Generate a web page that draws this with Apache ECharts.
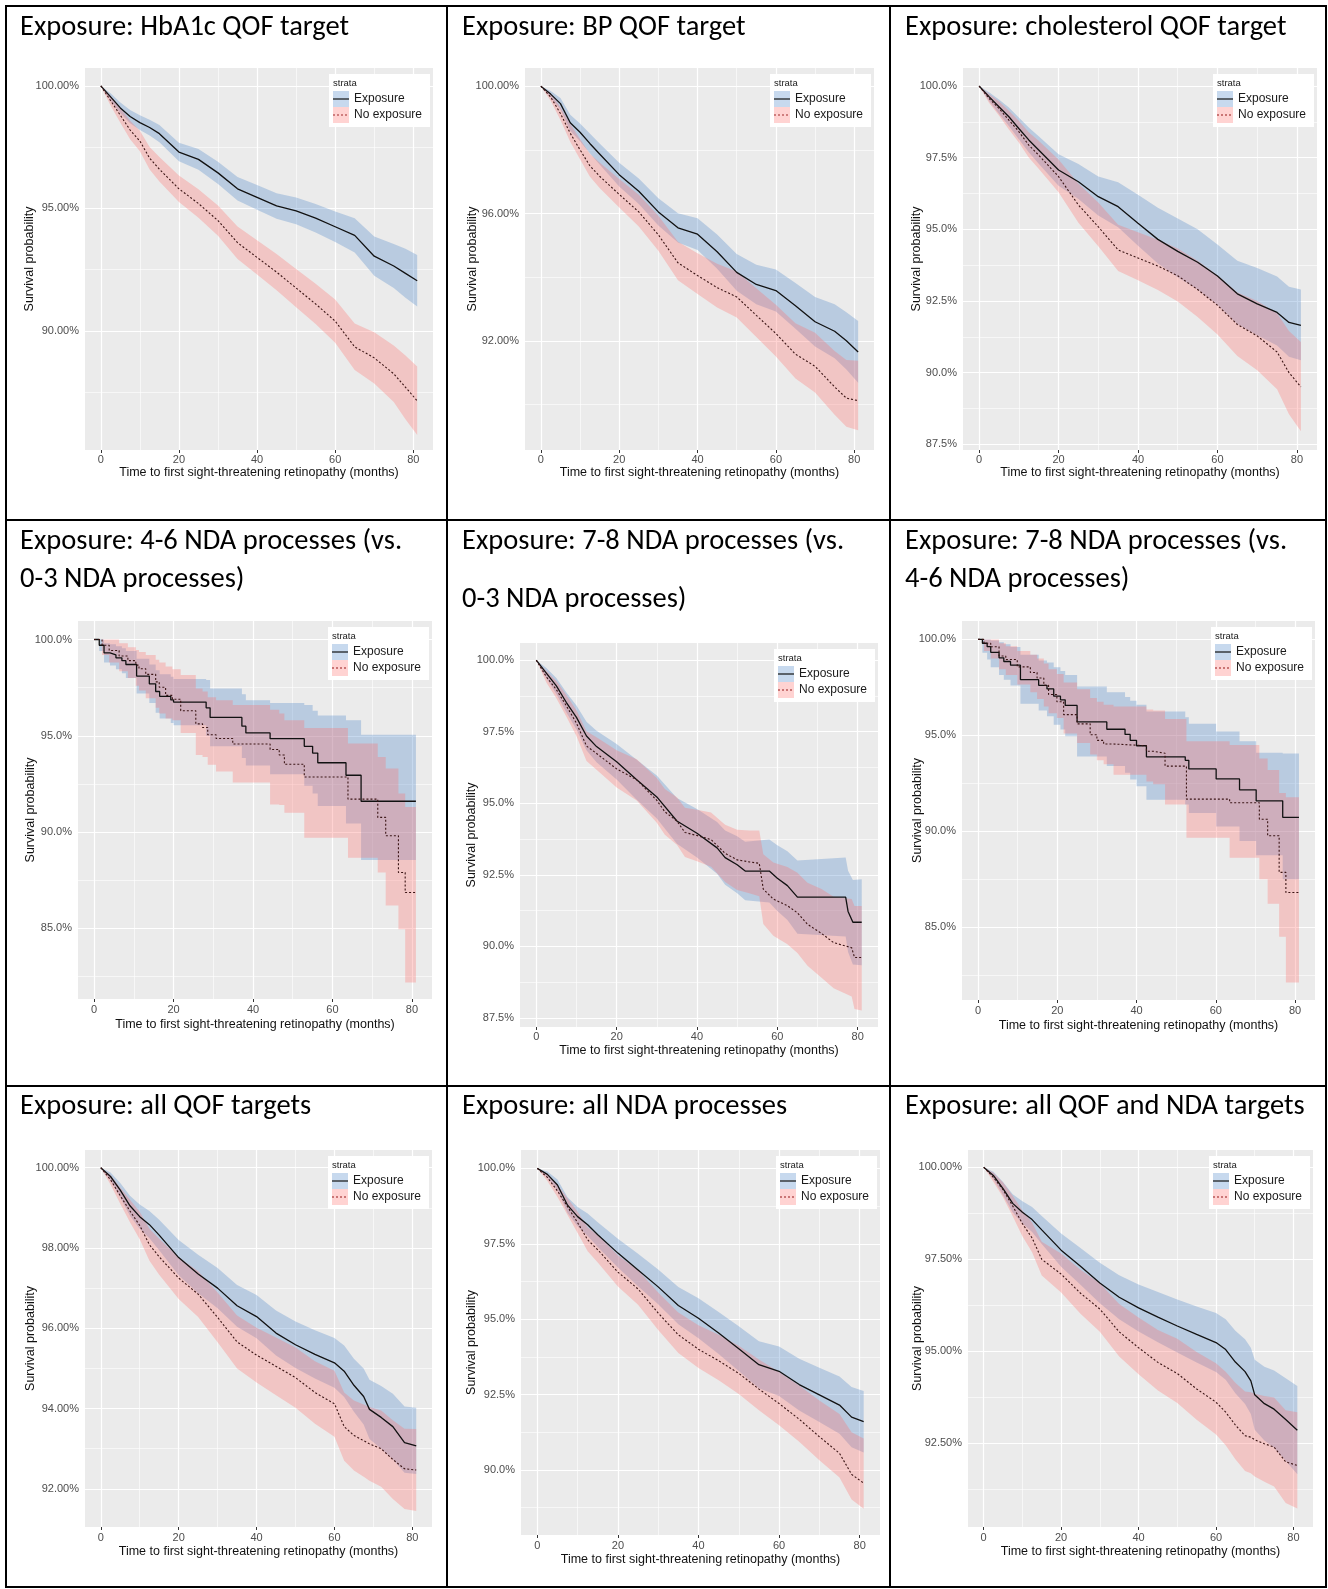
<!DOCTYPE html>
<html><head><meta charset="utf-8">
<script src="https://cdn.jsdelivr.net/npm/echarts@6/dist/echarts.min.js"></script>
<style>html,body{margin:0;padding:0;background:#fff}#c{width:1328px;height:1589px}</style>
</head><body><div id="c"></div>
<script>
// ---------------- DATA ----------------
const TITLES = [
 'Exposure: HbA1c QOF target',
 'Exposure: BP QOF target',
 'Exposure: cholesterol QOF target',
 'Exposure: 4-6 NDA processes (vs.\n0-3 NDA processes)',
 'Exposure: 7-8 NDA processes (vs.\n0-3 NDA processes)',
 'Exposure: 7-8 NDA processes (vs.\n4-6 NDA processes)',
 'Exposure: all QOF targets',
 'Exposure: all NDA processes',
 'Exposure: all QOF and NDA targets'
];
const STRATA = ['Exposure', 'No exposure'];
const LEGEND_TITLE = 'strata';
const X_NAME = 'Time to first sight-threatening retinopathy (months)';
const Y_NAME = 'Survival probability';
const X_TICKS = [0, 20, 40, 60, 80];
const X_MINOR = [10, 30, 50, 70];

// Panel 1: HbA1c QOF target
const p1_t     = [0,2.5,5,7.5,10,12.5,15,20,25,30,35,40,45,50,55,60,65,70,75,78,81];
const p1_expS  = [100,99.55,99.1,98.75,98.5,98.3,98.05,97.3,97.0,96.45,95.8,95.45,95.1,94.9,94.6,94.25,93.9,93.05,92.65,92.35,92.05];
const p1_expLo = [100,99.4,98.88,98.48,98.2,97.98,97.7,96.92,96.58,96.0,95.32,94.95,94.58,94.35,94.02,93.63,93.2,92.25,91.75,91.35,91.0];
const p1_expHi = [100,99.7,99.32,99.02,98.8,98.62,98.4,97.68,97.42,96.9,96.28,95.95,95.62,95.45,95.18,94.87,94.6,93.85,93.55,93.35,93.1];
const p1_noS   = [100,99.4,98.8,98.2,97.75,97.05,96.6,95.8,95.2,94.5,93.6,93.0,92.4,91.75,91.1,90.4,89.35,88.9,88.25,87.7,87.15];
const p1_noLo  = [100,99.2,98.5,97.82,97.33,96.59,96.1,95.26,94.62,93.88,92.94,92.3,91.66,90.97,90.28,89.52,88.4,87.85,87.1,86.4,85.75];
const p1_noHi  = [100,99.6,99.1,98.58,98.17,97.51,97.1,96.34,95.78,95.12,94.26,93.7,93.14,92.53,91.92,91.28,90.3,89.95,89.4,89.0,88.55];
const p1_yTicks = [90,95,100], p1_yMinor = [87.5,92.5,97.5];

// Panel 2: BP QOF target
const p2_t     = [0,2.5,5,7.5,10,12.5,15,20,25,30,35,40,45,50,55,60,65,70,75,78,81];
const p2_expS  = [100,99.75,99.45,98.85,98.55,98.2,97.87,97.22,96.7,96.05,95.55,95.35,94.8,94.15,93.77,93.58,93.1,92.6,92.3,92.0,91.65];
const p2_expLo = [100,99.65,99.27,98.6,98.27,97.89,97.54,96.85,96.3,95.62,95.09,94.85,94.26,93.57,93.15,92.92,92.38,91.82,91.45,91.1,90.68];
const p2_expHi = [100,99.85,99.63,99.1,98.83,98.51,98.2,97.59,97.1,96.48,96.01,95.85,95.34,94.73,94.39,94.24,93.82,93.38,93.15,92.9,92.62];
const p2_noS   = [100,99.66,99.14,98.52,98.0,97.5,97.17,96.6,96.05,95.33,94.45,94.05,93.67,93.38,92.8,92.23,91.58,91.2,90.55,90.2,90.12];
const p2_noLo  = [100,99.54,98.94,98.25,97.7,97.16,96.8,96.19,95.59,94.83,93.9,93.47,93.05,92.73,92.12,91.51,90.82,90.38,89.68,89.3,89.19];
const p2_noHi  = [100,99.78,99.34,98.81,98.34,97.88,97.6,97.08,96.59,95.93,95.11,94.75,94.42,94.18,93.65,93.13,92.55,92.25,91.68,91.4,91.37];
const p2_yTicks = [92,96,100], p2_yMinor = [90,94,98];

// Panel 3: cholesterol QOF target
const p3_t     = [0,2.5,5,7.5,10,12.5,15,20,25,30,35,40,45,50,55,60,65,70,75,78,81];
const p3_expS  = [100,99.63,99.28,98.93,98.52,98.12,97.77,97.07,96.66,96.14,95.79,95.21,94.65,94.23,93.85,93.37,92.75,92.4,92.1,91.75,91.65];
const p3_expLo = [100,99.48,99.03,98.61,98.14,97.69,97.29,96.52,96.06,95.48,95.07,94.43,93.81,93.33,92.9,92.37,91.7,91.3,90.95,90.55,90.43];
const p3_expHi = [100,99.78,99.53,99.25,98.9,98.55,98.25,97.62,97.28,96.84,96.64,96.21,95.75,95.38,95.0,94.47,93.9,93.65,93.35,93.0,92.9];
const p3_noS   = [100,99.57,99.22,98.81,98.41,97.94,97.59,96.84,95.85,95.09,94.28,94.0,93.72,93.38,92.9,92.35,91.68,91.28,90.72,90.0,89.5];
const p3_noLo  = [100,99.42,98.97,98.48,98.03,97.51,97.11,96.29,95.23,94.41,93.55,93.22,92.88,92.48,91.94,91.33,90.58,90.08,89.42,88.55,87.95];
const p3_noHi  = [100,99.72,99.47,99.14,98.79,98.39,98.09,97.44,96.6,95.94,95.16,94.9,94.64,94.33,93.9,93.4,92.8,92.5,92.07,91.45,91.07];
const p3_yTicks = [87.5,90,92.5,95,97.5,100], p3_yMinor = [88.75,91.25,93.75,96.25,98.75];

// Panel 4: 4-6 vs 0-3 NDA processes (step curves)
const p4_tExp  = [0,1.3,2.5,4,5.5,7,8,10.7,13.9,15.5,16.5,19.3,20,28.2,29.2,37.2,38.2,44.3,52.9,55,56.3,63.4,67.2,81];
const p4_expS  = [100,99.7,99.3,99.2,99.05,98.9,98.7,98.1,97.7,97.3,97.05,96.86,96.75,96.45,95.95,95.5,95.15,94.85,94.45,94.1,93.6,92.95,91.6,91.6];
const p4_expLo = [100,99.4,98.8,98.65,98.45,98.25,98.0,97.2,96.7,96.2,95.9,95.66,95.55,95.0,94.45,93.85,93.45,93.0,92.4,92.0,91.35,90.45,88.55,88.55];
const p4_expHi = [100,100,99.8,99.75,99.65,99.55,99.4,99.0,98.7,98.4,98.2,98.06,97.95,97.9,97.45,97.15,96.85,96.7,96.6,96.3,96.05,95.8,95.05,95.05];
const p4_tNo   = [0,2,3.8,6.3,8.5,10.5,11.3,13,15.5,16.4,18,19.7,21.8,25.6,27.3,28.6,30.7,34.9,44.3,46.6,47.9,52.9,63.9,71.4,73.4,76.6,78.3,81];
const p4_noS   = [100,99.7,99.43,99.14,98.9,98.67,98.48,98.19,97.8,97.52,97.1,96.9,96.3,95.62,95.43,95.05,94.86,94.57,94.29,94.0,93.52,92.86,91.71,90.76,89.81,87.9,86.86,86.86];
const p4_noLo  = [100,99.2,98.8,98.35,98.0,97.6,97.35,96.95,96.45,96.15,95.9,95.8,95.14,94.0,93.9,93.5,93.14,92.57,91.43,91.4,91.0,89.71,88.67,87.9,86.19,84.95,82.19,82.19];
const p4_noHi  = [100,100,100,99.8,99.6,99.45,99.35,99.2,98.95,98.8,98.6,98.45,98.15,97.45,97.3,97.0,96.85,96.6,96.35,96.15,95.8,95.4,94.6,93.9,93.3,92.0,91.3,91.3];
const p4_yTicks = [85,90,95,100], p4_yMinor = [82.5,87.5,92.5,97.5];

// Panel 5: 7-8 vs 0-3 NDA processes
const p5_tExp  = [0,2.5,5,7.5,10,12.5,15,20,25,30,35,40,45,47,50,52,58,60,62.5,65,77,77.6,78.8,81];
const p5_expS  = [100,99.55,99.1,98.52,98.0,97.35,96.98,96.45,95.82,95.22,94.38,93.95,93.44,93.1,92.85,92.63,92.63,92.38,92.12,91.72,91.72,91.22,90.84,90.84];
const p5_expLo = [100,99.37,98.82,98.17,97.58,96.85,96.43,95.83,95.12,94.47,93.58,93.1,92.54,92.15,91.85,91.61,91.53,91.23,90.92,90.44,90.34,89.8,89.36,89.34];
const p5_expHi = [100,99.73,99.38,98.87,98.42,97.85,97.53,97.07,96.52,95.97,95.18,94.8,94.34,94.05,93.85,93.65,93.73,93.53,93.32,93.0,93.1,92.64,92.32,92.34];
const p5_tNo   = [0,2.5,5,7.5,10,12.5,15,20,25,30,32,35,37,40,43.5,47,50,53,55.5,56.5,59,62.5,65,67.5,71,74,78.5,79.2,81];
const p5_noS   = [100,99.42,98.97,98.4,97.8,97.0,96.74,96.2,95.82,95.1,94.7,94.38,93.98,93.87,93.73,93.25,93.02,92.95,92.9,92.0,91.65,91.42,91.17,90.77,90.45,90.13,89.95,89.61,89.61];
const p5_noLo  = [100,99.22,98.67,98.02,97.35,96.48,96.17,95.55,95.1,94.32,93.9,93.55,93.12,92.97,92.78,92.25,91.97,91.85,91.75,90.78,90.37,90.07,89.77,89.32,88.9,88.53,88.25,87.81,87.76];
const p5_noHi  = [100,99.62,99.27,98.78,98.25,97.52,97.31,96.85,96.54,95.88,95.5,95.21,94.84,94.77,94.68,94.25,94.07,94.05,94.05,93.22,92.93,92.77,92.57,92.22,92.0,91.73,91.65,91.41,91.41];
const p5_yTicks = [87.5,90,92.5,95,97.5,100], p5_yMinor = [88.75,91.25,93.75,96.25,98.75];

// Panel 6: 7-8 vs 4-6 NDA processes (step curves)
const p6_tExp  = [0,1.1,2.3,3.2,5.3,6.5,8.2,10.7,15.3,17.4,19.1,20.8,22,25,32.5,37.1,38.4,40,42.5,52.3,53.2,60.1,66,70.2,76.9,81];
const p6_expS  = [100,99.8,99.62,99.33,99.04,98.85,98.66,97.9,97.61,97.42,97.04,96.85,96.56,95.7,95.32,95.05,94.74,94.46,93.88,93.7,93.25,92.73,92.16,91.59,90.73,90.73];
const p6_expLo = [100,99.3,98.95,98.55,98.15,97.9,97.6,96.65,96.3,96.0,95.55,95.3,94.95,93.9,93.4,93.05,92.7,92.35,91.65,91.4,90.95,90.25,89.5,88.75,87.5,87.5];
const p6_expHi = [100,100,100,99.95,99.85,99.75,99.6,99.2,98.9,98.8,98.55,98.35,98.15,97.55,97.25,97.0,96.8,96.6,96.25,95.95,95.6,95.2,94.7,94.1,94.05,94.05];
const p6_tNo   = [0,1.5,3.2,5.3,7,9.9,13.2,14.9,16.6,17.8,19.9,21.6,25,28.3,30,31.7,34.2,42.5,44.2,47.2,52.6,63.5,71,73.1,76,77.7,81];
const p6_noS   = [100,99.8,99.62,99.14,98.95,98.57,98.28,97.99,97.61,97.13,96.75,96.08,95.6,95.03,94.74,94.55,94.46,94.17,94.07,93.4,91.68,91.49,90.63,89.77,87.86,86.81,86.81];
const p6_noLo  = [100,99.4,99.0,98.45,98.15,97.65,97.25,96.9,96.5,96.15,95.9,95.1,94.6,94.0,93.7,93.5,92.95,92.6,92.45,91.4,89.67,88.62,87.5,86.23,84.5,82.12,82.12];
const p6_noHi  = [100,100,100,99.8,99.65,99.4,99.2,99.0,98.75,98.45,98.2,97.75,97.4,96.95,96.75,96.6,96.5,96.35,96.3,95.85,94.7,94.5,93.8,93.2,92.0,91.78,91.78];
const p6_yTicks = [85,90,95,100], p6_yMinor = [82.5,87.5,92.5,97.5];

// Panel 7: all QOF targets
const p7_t     = [0,2.5,5,7.5,10,12.5,15,20,25,30,35,40,45,50,55,60,62.5,65,67.5,69,72,75,78,81];
const p7_expS  = [100,99.78,99.44,99.05,98.78,98.58,98.32,97.76,97.35,97.0,96.56,96.29,95.88,95.59,95.35,95.14,94.93,94.58,94.3,93.98,93.78,93.55,93.15,93.07];
const p7_expLo = [100,99.68,99.26,98.8,98.48,98.24,97.94,97.32,96.87,96.5,96.04,95.75,95.32,95.01,94.75,94.52,94.29,93.92,93.6,93.24,93.0,92.73,92.4,92.37];
const p7_expHi = [100,99.88,99.62,99.3,99.08,98.92,98.7,98.2,97.83,97.5,97.08,96.83,96.44,96.17,95.95,95.76,95.57,95.24,95.0,94.72,94.56,94.37,94.05,94.02];
const p7_noS   = [100,99.7,99.3,98.92,98.56,98.08,97.78,97.25,96.85,96.27,95.66,95.33,95.05,94.77,94.4,94.12,93.55,93.33,93.2,93.12,93.0,92.73,92.5,92.47];
const p7_noLo  = [100,99.58,99.1,98.64,98.22,97.68,97.33,96.73,96.28,95.65,95.0,94.65,94.33,94.02,93.62,93.3,92.7,92.46,92.3,92.2,92.05,91.75,91.5,91.45];
const p7_noHi  = [100,99.82,99.5,99.2,98.9,98.48,98.23,97.77,97.42,96.89,96.32,96.01,95.77,95.52,95.18,94.94,94.4,94.2,94.1,94.04,93.95,93.71,93.5,93.49];
const p7_yTicks = [92,94,96,98,100], p7_yMinor = [93,95,97,99];

// Panel 8: all NDA processes
const p8_t     = [0,2.5,5,7.5,10,12.5,15,20,25,30,35,40,45,50,55,60,65,70,75,78,81];
const p8_expS  = [100,99.8,99.45,98.78,98.4,98.13,97.8,97.19,96.63,96.07,95.45,95.03,94.54,94.02,93.49,93.27,92.83,92.49,92.15,91.75,91.6];
const p8_expLo = [100,99.7,99.27,98.52,98.08,97.76,97.39,96.71,96.09,95.49,94.83,94.37,93.84,93.28,92.71,92.45,91.97,91.59,91.2,90.75,90.58];
const p8_expHi = [100,99.9,99.63,99.04,98.72,98.5,98.21,97.67,97.17,96.65,96.07,95.69,95.24,94.76,94.27,94.09,93.69,93.39,93.1,92.75,92.62];
const p8_noS   = [100,99.7,99.25,98.73,98.2,97.63,97.3,96.56,96.0,95.2,94.48,94.0,93.62,93.2,92.68,92.2,91.68,91.1,90.55,89.85,89.56];
const p8_noLo  = [100,99.58,99.05,98.45,97.86,97.25,96.88,96.08,95.48,94.64,93.88,93.38,92.97,92.52,91.98,91.48,90.93,90.32,89.75,89.02,88.71];
const p8_noHi  = [100,99.82,99.45,99.01,98.56,98.05,97.78,97.12,96.62,95.88,95.22,94.8,94.48,94.12,93.66,93.25,92.8,92.3,91.85,91.25,91.04];
const p8_yTicks = [90,92.5,95,97.5,100], p8_yMinor = [88.75,91.25,93.75,96.25,98.75];

// Panel 9: all QOF and NDA targets
const p9_t     = [0,2.5,5,7.5,10,12.5,15,20,25,30,35,40,45,50,55,60,62.5,65,67.5,69,70,72.5,75,78,81];
const p9_expS  = [100,99.78,99.42,99.02,98.78,98.58,98.3,97.75,97.31,96.86,96.47,96.18,95.93,95.69,95.46,95.24,95.05,94.71,94.45,94.2,93.82,93.58,93.43,93.15,92.86];
const p9_expLo = [100,99.68,99.24,98.77,98.48,98.24,97.92,97.3,96.81,96.31,95.87,95.54,95.25,94.97,94.7,94.44,94.23,93.86,93.57,93.3,92.87,92.58,92.38,92.03,91.66];
const p9_expHi = [100,99.88,99.6,99.27,99.08,98.92,98.68,98.2,97.81,97.41,97.07,96.82,96.61,96.41,96.22,96.04,95.87,95.56,95.33,95.1,94.77,94.58,94.48,94.27,94.06];
const p9_noS   = [100,99.73,99.39,98.95,98.47,98.08,97.5,97.1,96.58,96.15,95.53,95.1,94.7,94.4,93.98,93.62,93.35,93.0,92.71,92.67,92.6,92.49,92.4,92.0,91.9];
const p9_noLo  = [100,99.61,99.19,98.67,98.13,97.69,97.06,96.6,96.02,95.53,94.86,94.38,93.94,93.6,93.14,92.74,92.45,92.07,91.75,91.69,91.6,91.46,91.33,90.88,90.73];
const p9_noHi  = [100,99.85,99.59,99.23,98.83,98.5,97.98,97.66,97.22,96.85,96.29,95.92,95.58,95.34,94.98,94.68,94.45,94.15,93.91,93.89,93.85,93.79,93.75,93.4,93.35];
const p9_yTicks = [92.5,95,97.5,100], p9_yMinor = [91.25,93.75,96.25,98.75];

const PANELS = [
 {tE:p1_t, eS:p1_expS, eL:p1_expLo, eH:p1_expHi, tN:p1_t, nS:p1_noS, nL:p1_noLo, nH:p1_noHi, yT:p1_yTicks, yM:p1_yMinor, dec:2, step:false},
 {tE:p2_t, eS:p2_expS, eL:p2_expLo, eH:p2_expHi, tN:p2_t, nS:p2_noS, nL:p2_noLo, nH:p2_noHi, yT:p2_yTicks, yM:p2_yMinor, dec:2, step:false},
 {tE:p3_t, eS:p3_expS, eL:p3_expLo, eH:p3_expHi, tN:p3_t, nS:p3_noS, nL:p3_noLo, nH:p3_noHi, yT:p3_yTicks, yM:p3_yMinor, dec:1, step:false},
 {tE:p4_tExp, eS:p4_expS, eL:p4_expLo, eH:p4_expHi, tN:p4_tNo, nS:p4_noS, nL:p4_noLo, nH:p4_noHi, yT:p4_yTicks, yM:p4_yMinor, dec:1, step:true},
 {tE:p5_tExp, eS:p5_expS, eL:p5_expLo, eH:p5_expHi, tN:p5_tNo, nS:p5_noS, nL:p5_noLo, nH:p5_noHi, yT:p5_yTicks, yM:p5_yMinor, dec:1, step:false},
 {tE:p6_tExp, eS:p6_expS, eL:p6_expLo, eH:p6_expHi, tN:p6_tNo, nS:p6_noS, nL:p6_noLo, nH:p6_noHi, yT:p6_yTicks, yM:p6_yMinor, dec:1, step:true},
 {tE:p7_t, eS:p7_expS, eL:p7_expLo, eH:p7_expHi, tN:p7_t, nS:p7_noS, nL:p7_noLo, nH:p7_noHi, yT:p7_yTicks, yM:p7_yMinor, dec:2, step:false},
 {tE:p8_t, eS:p8_expS, eL:p8_expLo, eH:p8_expHi, tN:p8_t, nS:p8_noS, nL:p8_noLo, nH:p8_noHi, yT:p8_yTicks, yM:p8_yMinor, dec:1, step:false},
 {tE:p9_t, eS:p9_expS, eL:p9_expLo, eH:p9_expHi, tN:p9_t, nS:p9_noS, nL:p9_noLo, nH:p9_noHi, yT:p9_yTicks, yM:p9_yMinor, dec:2, step:false}
];

// ---------------- LAYOUT / STYLE ----------------
const X_RANGE = [-4.05, 85.05];
const LAYOUT = [
 {grid:[85,68,348,382],   y:[85.14,100.73], yGap:49, xGap:16, lm:4, tx:20,  ty:13,   lh:30},
 {grid:[525,68,349,382],  y:[88.57,100.57], yGap:46, xGap:16, lm:4, tx:462, ty:13,   lh:30},
 {grid:[963,68,354,382],  y:[87.3,100.63],  yGap:40, xGap:16, lm:4, tx:905, ty:13,   lh:30},
 {grid:[78,621,354,378],  y:[81.33,100.96], yGap:41, xGap:19, lm:5, tx:20,  ty:523,  lh:38},
 {grid:[520,643,358,384], y:[87.18,100.6],  yGap:42, xGap:17, lm:4, tx:462, ty:513,  lh:58},
 {grid:[962,621,353,379], y:[81.21,100.96], yGap:38, xGap:19, lm:5, tx:905, ty:523,  lh:38},
 {grid:[85,1150,347,377], y:[91.05,100.44], yGap:48, xGap:18, lm:5, tx:20,  ty:1092, lh:30},
 {grid:[521,1150,359,385],y:[87.84,100.61], yGap:43, xGap:18, lm:5, tx:462, ty:1092, lh:30},
 {grid:[968,1150,345,377],y:[90.23,100.47], yGap:44, xGap:18, lm:5, tx:905, ty:1092, lh:30}
];
const BORDER_X = [6, 447, 890, 1326];
const BORDER_Y = [6, 520, 1086, 1587];
const BLUE = 'rgba(70,130,200,0.3)';
const PINK = 'rgba(255,110,105,0.3)';
const SANS = "'Liberation Sans', Arial, Helvetica, sans-serif";
const TITLE_FONT = "Calibri, Carlito, 'Open Sans', sans-serif";

const chart = echarts.init(document.getElementById('c'), null, {renderer:'canvas', width:1328, height:1589});
const pairs = (t, v) => t.map((x, k) => [x, v[k]]);

// confidence band drawn as one polygon through the axes' scales
function bandSeries(i, name, t, lo, hi, color, step) {
  const rows = t.map((x, k) => [x, lo[k], hi[k]]);
  return {
    type:'custom', name:name, coordinateSystem:'cartesian2d', xAxisIndex:i, yAxisIndex:i,
    silent:true, z:2, clip:true, encode:{x:0, y:[1,2]}, data:rows,
    renderItem: function (params, api) {
      if (params.dataIndex !== 0) return null;
      const up = [], dn = [];
      for (let k = 0; k < rows.length; k++) {
        const r = rows[k];
        if (step && k > 0) {
          up.push(api.coord([r[0], rows[k-1][2]]));
          dn.push(api.coord([r[0], rows[k-1][1]]));
        }
        up.push(api.coord([r[0], r[2]]));
        dn.push(api.coord([r[0], r[1]]));
      }
      return {type:'polygon', shape:{points: up.concat(dn.reverse())}, style:{fill:color, stroke:null}};
    }
  };
}

const grids = [], xAxes = [], yAxes = [], series = [], titles = [], gfx = [];
PANELS.forEach((p, i) => {
  const L = LAYOUT[i];
  const [gl, gt, gw, gh] = L.grid;
  grids.push({left:gl, top:gt, width:gw, height:gh, show:true, backgroundColor:'#EBEBEB', borderWidth:0, containLabel:false, outerBoundsMode:'none'});
  xAxes.push({
    type:'value', gridIndex:i, min:X_RANGE[0], max:X_RANGE[1],
    axisLine:{show:false}, splitLine:{show:false},
    axisTick:{show:true, customValues:X_TICKS, length:3, lineStyle:{color:'#333', width:1}},
    axisLabel:{customValues:X_TICKS, color:'#4D4D4D', fontSize:11, fontFamily:SANS, margin:L.lm},
    name:X_NAME, nameLocation:'middle', nameGap:L.xGap,
    nameTextStyle:{color:'#111', fontSize:12.5, fontFamily:SANS}
  });
  yAxes.push({
    type:'value', gridIndex:i, min:L.y[0], max:L.y[1],
    axisLine:{show:false}, splitLine:{show:false},
    axisTick:{show:true, customValues:p.yT, length:3, lineStyle:{color:'#333', width:1}},
    axisLabel:{customValues:p.yT, color:'#4D4D4D', fontSize:11, fontFamily:SANS, margin:6,
               formatter:(v) => v.toFixed(p.dec) + '%'},
    name:Y_NAME, nameLocation:'middle', nameGap:L.yGap, nameRotate:90, nameMoveOverlap:false,
    nameTextStyle:{color:'#111', fontSize:12.5, fontFamily:SANS}
  });
  const major = {color:'#fff', width:1.2, type:'solid'};
  const minor = {color:'#fff', width:0.6, type:'solid'};
  series.push({
    type:'line', xAxisIndex:i, yAxisIndex:i, data:[], silent:true, z:1,
    markLine:{
      silent:true, symbol:['none','none'], label:{show:false}, animation:false, z:1,
      emphasis:{disabled:true},
      data:[].concat(
        p.yM.map(v => ({yAxis:v, lineStyle:minor})),
        X_MINOR.map(v => ({xAxis:v, lineStyle:minor})),
        p.yT.map(v => ({yAxis:v, lineStyle:major})),
        X_TICKS.map(v => ({xAxis:v, lineStyle:major}))
      )
    }
  });
  const step = p.step ? 'end' : false;
  series.push(bandSeries(i, STRATA[0] + ' 95% CI', p.tE, p.eL, p.eH, BLUE, p.step));
  series.push(bandSeries(i, STRATA[1] + ' 95% CI', p.tN, p.nL, p.nH, PINK, p.step));
  series.push({type:'line', name:STRATA[0], xAxisIndex:i, yAxisIndex:i, symbol:'none', showSymbol:false, step:step, z:3,
               data:pairs(p.tE, p.eS), lineStyle:{color:'#111', width:1.3}});
  series.push({type:'line', name:STRATA[1], xAxisIndex:i, yAxisIndex:i, symbol:'none', showSymbol:false, step:step, z:3,
               data:pairs(p.tN, p.nS), lineStyle:{color:'#3a1414', width:1.1, type:[2,2]}});

  titles.push({text:TITLES[i], left:L.tx, top:L.ty, padding:0,
               textStyle:{fontFamily:TITLE_FONT, fontSize:28.5, fontWeight:'normal', color:'#000', lineHeight:L.lh}});

  // legend box
  const R = gl + gw, T = gt;
  gfx.push(
    {type:'rect', shape:{x:R-104, y:T+6, width:101, height:53}, style:{fill:'#fff'}, z:20, silent:true},
    {type:'text', x:R-100, y:T+15, style:{text:LEGEND_TITLE, font:"9.5px " + SANS, fill:'#1a1a1a', verticalAlign:'middle'}, z:21, silent:true},
    {type:'rect', shape:{x:R-100, y:T+23, width:16, height:16}, style:{fill:BLUE}, z:21, silent:true},
    {type:'line', shape:{x1:R-100, y1:T+31, x2:R-84, y2:T+31}, style:{stroke:'#111', lineWidth:1.2}, z:22, silent:true},
    {type:'rect', shape:{x:R-100, y:T+39, width:16, height:16}, style:{fill:PINK}, z:21, silent:true},
    {type:'line', shape:{x1:R-100, y1:T+47, x2:R-84, y2:T+47}, style:{stroke:'#a02a2a', lineWidth:1.1, lineDash:[2,2]}, z:22, silent:true},
    {type:'text', x:R-79, y:T+31, style:{text:STRATA[0], font:"12px " + SANS, fill:'#1a1a1a', verticalAlign:'middle'}, z:21, silent:true},
    {type:'text', x:R-79, y:T+47, style:{text:STRATA[1], font:"12px " + SANS, fill:'#1a1a1a', verticalAlign:'middle'}, z:21, silent:true}
  );
});
// table borders
BORDER_X.forEach(x => gfx.push({type:'line', shape:{x1:x, y1:5, x2:x, y2:1588}, style:{stroke:'#000', lineWidth:2}, z:30, silent:true}));
BORDER_Y.forEach(y => gfx.push({type:'line', shape:{x1:5, y1:y, x2:1327, y2:y}, style:{stroke:'#000', lineWidth:2}, z:30, silent:true}));

chart.setOption({
  animation:false,
  backgroundColor:'#fff',
  title:titles,
  grid:grids,
  xAxis:xAxes,
  yAxis:yAxes,
  series:series,
  graphic:{elements:gfx}
});
</script></body></html>
